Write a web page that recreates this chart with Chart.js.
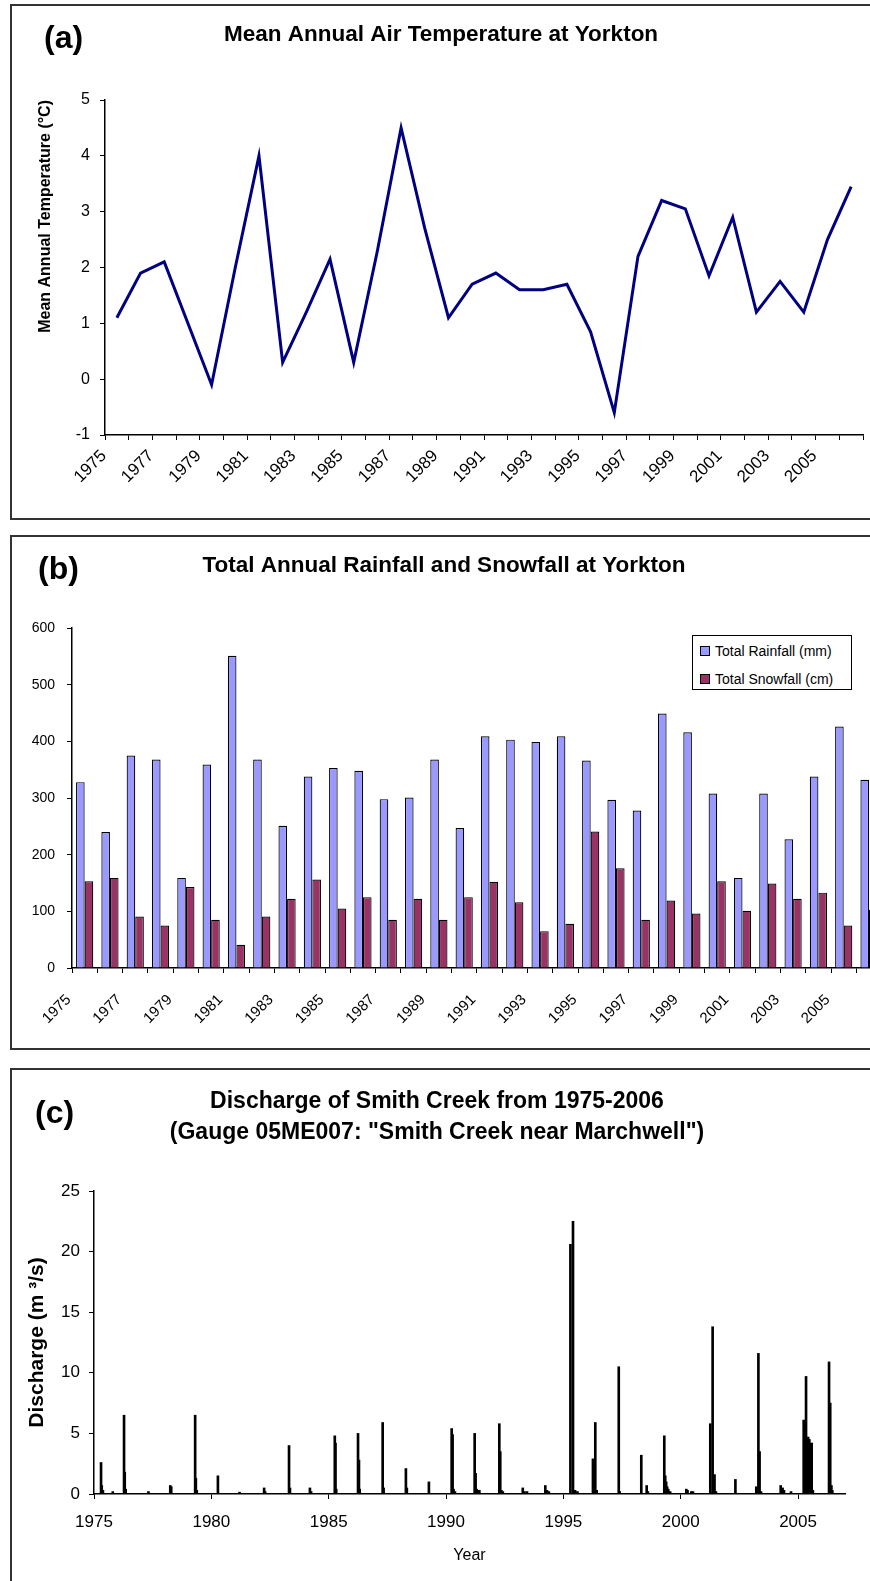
<!DOCTYPE html>
<html>
<head>
<meta charset="utf-8">
<script src="https://cdn.jsdelivr.net/npm/chart.js@4.4.0/dist/chart.umd.min.js"></script>
<style>
  html, body { margin:0; padding:0; background:#fff; width:870px; height:1581px; overflow:hidden; }
  body { position:relative; font-family:'Liberation Sans', Arial, sans-serif; }
  .panel { position:absolute; left:10px; width:900px; border:2px solid #333; box-sizing:border-box; }
  canvas { position:absolute; left:0; }
  .tag { position:absolute; font-weight:bold; font-size:32px; line-height:38px; color:#000; }
  .legend { position:absolute; left:692px; top:635px; width:160px; height:55px; border:1px solid #000; background:#fff; box-sizing:border-box; font-size:14px; color:#000; }
  .legend .item { position:absolute; left:7px; height:16px; line-height:16px; white-space:nowrap; }
  .legend .sw { display:inline-block; width:8px; height:8px; border:1px solid #000; margin-right:5px; vertical-align:middle; position:relative; top:-1px; }
</style>
</head>
<body>
<div class="panel" style="top:4px;height:516px;"></div>
<div class="panel" style="top:535px;height:515px;"></div>
<div class="panel" style="top:1068px;height:600px;"></div>

<canvas id="cA" width="900" height="518" style="top:0px;width:900px;height:518px;"></canvas>
<canvas id="cB" width="900" height="512" style="top:536px;width:900px;height:512px;"></canvas>
<canvas id="cC" width="900" height="512" style="top:1069px;width:900px;height:512px;"></canvas>

<div class="tag" style="left:44px;top:18px;">(a)</div>
<div class="tag" style="left:38px;top:549px;">(b)</div>
<div class="tag" style="left:35px;top:1093px;">(c)</div>
<div class="legend" id="legB"></div>

<script>
// ---------- DATA ----------
const years = [1975,1976,1977,1978,1979,1980,1981,1982,1983,1984,1985,1986,1987,1988,1989,1990,
               1991,1992,1993,1994,1995,1996,1997,1998,1999,2000,2001,2002,2003,2004,2005,2006];

const meanTemp = [1.1,1.9,2.1,1.0,-0.1,2.0,4.0,0.3,1.2,2.15,0.3,2.3,4.5,2.7,1.1,1.7,
                  1.9,1.6,1.6,1.7,0.85,-0.6,2.2,3.2,3.05,1.85,2.9,1.2,1.75,1.2,2.5,3.45];

const rainfall = [328,240,375,368,159,359,551,368,251,338,353,348,298,301,368,247,
                  409,403,399,409,366,297,278,449,416,308,159,308,227,338,426,332];
const snowfall = [153,159,91,75,143,85,41,91,122,156,105,125,85,122,85,125,
                  152,116,65,78,241,176,85,119,96,153,101,149,122,133,75,103];

const seriesNames = ['Total Rainfall (mm)', 'Total Snowfall (cm)'];
const seriesColors = ['#9999FF', '#993366'];

// Smith Creek discharge spikes (decimal year, m3/s)
const flowYear = [1975.30,1975.33,1975.38,1975.80,1976.28,1976.31,1976.35,1977.32,1978.25,1978.29,
  1979.31,1979.34,1979.38,1980.28,1981.20,1982.25,1982.29,1983.31,1983.35,1984.20,1984.25,
  1985.26,1985.29,1985.32,1986.25,1986.29,1986.32,1987.30,1987.34,1988.29,1988.33,1989.27,
  1990.24,1990.28,1990.32,1990.38,1991.22,1991.26,1991.30,1991.36,1991.42,1992.27,1992.31,1992.36,1992.42,
  1993.27,1993.34,1993.45,1994.23,1994.30,1994.38,1995.30,1995.41,1995.50,1995.60,
  1996.26,1996.36,1996.42,1997.36,1997.40,1998.32,1998.55,1998.60,
  1999.30,1999.34,1999.38,1999.42,1999.47,1999.55,2000.24,2000.29,2000.45,2000.52,
  2001.26,2001.36,2001.44,2001.50,2002.33,2003.22,2003.31,2003.36,2003.42,
  2004.26,2004.34,2004.40,2004.70,2005.24,2005.28,2005.34,2005.38,2005.43,2005.48,2005.53,2005.58,2005.63,
  2006.32,2006.37,2006.42,2006.46];
const flowValue = [2.6,0.7,0.3,0.2,6.5,1.8,0.4,0.2,0.7,0.6,
  6.5,1.3,0.3,1.5,0.15,0.5,0.2,4.0,0.5,0.5,0.2,
  4.8,4.2,0.4,5.0,2.8,0.4,5.9,0.5,2.1,0.5,1.0,
  5.4,4.9,0.4,0.2,5.0,1.7,0.4,0.3,0.3,5.8,3.5,0.3,0.2,
  0.5,0.2,0.2,0.7,0.3,0.2,20.6,22.5,0.3,0.2,
  2.9,5.9,0.3,10.5,0.2,3.2,0.7,0.2,
  4.8,1.5,1.0,0.6,0.4,0.2,0.4,0.3,0.2,0.2,
  5.8,13.8,1.6,0.2,1.2,0.6,11.6,3.5,0.2,
  0.7,0.5,0.3,0.2,6.1,6.0,9.7,4.0,4.7,4.5,4.2,4.2,0.3,
  10.9,7.5,0.7,0.3];
const flowTicks = [1975,1980,1985,1990,1995,2000,2005];

// ---------- STYLE ----------
const FAM = "'Liberation Sans', Arial, sans-serif";
Chart.defaults.font.family = FAM;
Chart.defaults.color = '#000';
Chart.defaults.animation = false;

const axisGrid = { drawOnChartArea:false, drawTicks:true, tickLength:5, color:'#000', lineWidth:1 };
const axisBorder = { display:true, color:'#000', width:1.5 };

// ---------- (a) ----------
new Chart(document.getElementById('cA'), {
  type:'line',
  data:{ labels: years, datasets:[{ data: meanTemp, borderColor:'#000080', borderWidth:3, pointRadius:0, tension:0, fill:false }] },
  options:{
    responsive:false, devicePixelRatio:1,
    layout:{ padding:{ left:19, right:37, top:0, bottom:0 } },
    plugins:{
      legend:{ display:false }, tooltip:{ enabled:false },
      title:{ display:true, text:'Mean Annual Air Temperature at Yorkton', color:'#000',
              font:{ size:22.5, weight:'bold', lineHeight:1.2 }, padding:{ top:21.5, bottom:51.5 } }
    },
    scales:{
      x:{ offset:true, grid:Object.assign({}, axisGrid, { offset:true }), border:axisBorder,
          ticks:{ autoSkip:false, maxRotation:45, minRotation:45, padding:6, labelOffset:-13, font:{ size:17 }, color:'#000',
                  callback:(v,i)=> i%2===0 ? String(years[i]) : '' },
          afterFit:s=>{ s.height = 83; } },
      y:{ min:-1, max:5, grid:axisGrid, border:axisBorder,
          ticks:{ stepSize:1, padding:10, font:{ size:16 }, color:'#000' },
          title:{ display:true, text:'Mean Annual Temperature (°C)', align:'end', color:'#000',
                  font:{ size:16, weight:'bold', lineHeight:1.2 }, padding:{ top:17, bottom:0 } },
          afterFit:s=>{ s.width = 86; } }
    }
  }
});

// ---------- (b) ----------
new Chart(document.getElementById('cB'), {
  type:'bar',
  data:{ labels: years, datasets:[
    { label: seriesNames[0], data: rainfall, backgroundColor: seriesColors[0], borderColor:'#000', borderWidth:1.2 },
    { label: seriesNames[1], data: snowfall, backgroundColor: seriesColors[1], borderColor:'#000', borderWidth:1.2 }
  ]},
  options:{
    responsive:false, devicePixelRatio:1,
    layout:{ padding:{ left:4.5, right:16.5, top:0, bottom:0 } },
    datasets:{ bar:{ categoryPercentage:0.68, barPercentage:1.0 } },
    plugins:{
      legend:{ display:false }, tooltip:{ enabled:false },
      title:{ display:true, text:'Total Annual Rainfall and Snowfall at Yorkton', color:'#000',
              font:{ size:22.5, weight:'bold', lineHeight:1.2 }, padding:{ top:16.5, bottom:48.5 } }
    },
    scales:{
      x:{ offset:true, grid:Object.assign({}, axisGrid, { offset:true }), border:axisBorder,
          ticks:{ autoSkip:false, maxRotation:45, minRotation:45, padding:18, labelOffset:-16, font:{ size:15 }, color:'#000',
                  callback:(v,i)=> i%2===0 ? String(years[i]) : '' },
          afterFit:s=>{ s.height = 80; } },
      y:{ min:0, max:600, grid:axisGrid, border:axisBorder,
          ticks:{ stepSize:100, padding:12, font:{ size:14 }, color:'#000' },
          afterFit:s=>{ s.width = 67.5; } }
    }
  }
});

// HTML legend for (b)
(function(){
  const leg = document.getElementById('legB');
  seriesNames.forEach((name, i) => {
    const it = document.createElement('div');
    it.className = 'item';
    it.style.top = (i === 0 ? 7 : 35) + 'px';
    const sw = document.createElement('span');
    sw.className = 'sw'; sw.style.background = seriesColors[i];
    it.appendChild(sw);
    it.appendChild(document.createTextNode(name));
    leg.appendChild(it);
  });
})();

// ---------- (c) ----------
new Chart(document.getElementById('cC'), {
  type:'bar',
  data:{ datasets:[{ data: flowYear.map((x,i)=>({ x:x, y:flowValue[i] })), backgroundColor:'#000', borderWidth:0, barThickness:2 }] },
  options:{
    responsive:false, devicePixelRatio:1,
    layout:{ padding:{ left:29, right:55, top:0, bottom:0 } },
    plugins:{
      legend:{ display:false }, tooltip:{ enabled:false },
      title:{ display:true, text:['Discharge of Smith Creek from 1975-2006', '(Gauge 05ME007: "Smith Creek near Marchwell")'],
              color:'#000', font:{ size:23, weight:'bold', lineHeight:'31px' }, padding:{ top:17.5, bottom:42.5 } }
    },
    scales:{
      x:{ type:'linear', min:1975, max:2007, offset:false, grid:Object.assign({}, axisGrid, { offset:false }), border:axisBorder,
          afterBuildTicks:s=>{ s.ticks = flowTicks.map(v=>({ value:v })); },
          ticks:{ padding:13, font:{ size:17 }, color:'#000', callback:v=>String(v) },
          title:{ display:true, text:'Year', color:'#000', font:{ size:16, lineHeight:1.2 }, padding:{ top:0, bottom:15.4 } },
          afterFit:s=>{ s.height = 87; } },
      y:{ min:0, max:25, grid:axisGrid, border:axisBorder,
          ticks:{ stepSize:5, padding:9, font:{ size:17 }, color:'#000' },
          title:{ display:true, text:'Discharge (m ³/s)', color:'#000', font:{ size:21, weight:'bold', lineHeight:'17px' }, padding:{ top:0, bottom:0 } },
          afterFit:s=>{ s.width = 65; } }
    }
  }
});
</script>
</body>
</html>
